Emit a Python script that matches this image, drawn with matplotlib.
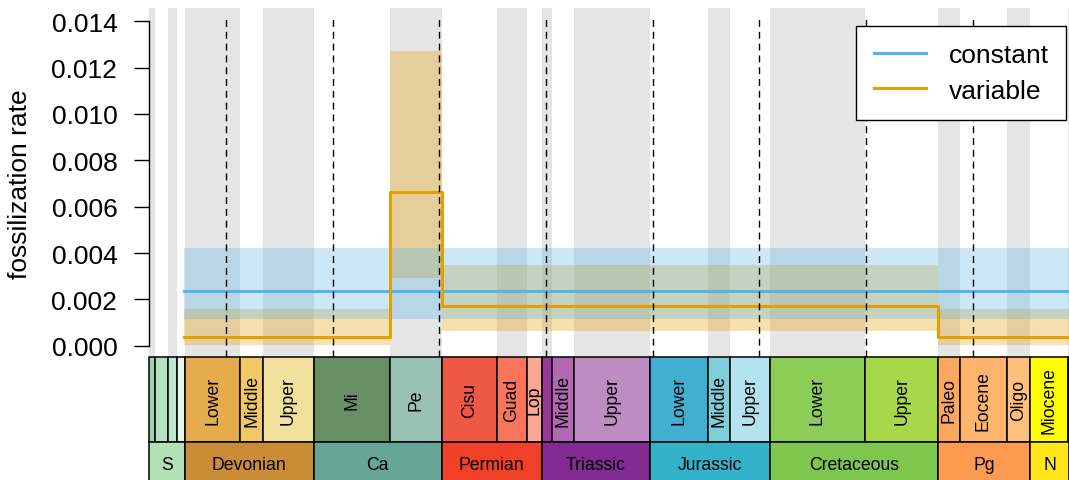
import matplotlib.pyplot as plt
from matplotlib.patches import Rectangle

plt.rcParams['font.family'] = ['Liberation Sans', 'DejaVu Sans']

# geological epochs (Ma)
epoch_start = [443.8, 433.4, 427.4, 423.0, 419.2, 393.3, 382.7, 358.9, 323.2,
               298.9, 272.95, 259.1, 251.9, 247.2, 237.0, 201.3, 174.1, 163.5,
               145.0, 100.5, 66.0, 56.0, 33.9, 23.03, 5.333]
epoch_end = epoch_start[1:] + [2.58]
epoch_labels = ['', '', '', '', 'Lower', 'Middle', 'Upper', 'Mi', 'Pe',
                'Cisu', 'Guad', 'Lop', '', 'Middle', 'Upper', 'Lower', 'Middle',
                'Upper', 'Lower', 'Upper', 'Paleo', 'Eocene', 'Oligo', 'Miocene', '']
epoch_colors = ['#99D7B3', '#B3E1C2', '#BFE6CF', '#E6F5E1', '#E5AC4D', '#F1C868',
                '#F1E19D', '#678F66', '#99C2B5', '#EF5845', '#FB745C', '#FBA794',
                '#983999', '#B168B1', '#BD8CC3', '#42AED0', '#80CFD8', '#B3E3EE',
                '#8CCD57', '#A6D84A', '#FDA75F', '#FDB46C', '#FEC07A', '#FFFF00',
                '#FFFF99']

# geological periods (Ma)
period_start = [443.8, 419.2, 358.9, 298.9, 251.9, 201.3, 145.0, 66.0, 23.03]
period_end = period_start[1:] + [2.58]
period_labels = ['S', 'Devonian', 'Ca', 'Permian', 'Triassic', 'Jurassic',
                 'Cretaceous', 'Pg', 'N']
period_colors = ['#B3E1B6', '#CB8C37', '#67A599', '#F04028', '#812B92',
                 '#34B2C9', '#7FC64E', '#FD9A52', '#FFE619']

# fossilization rate estimates
t_origin = 419.7
const_rate = 0.00236
const_lo = 0.00115
const_hi = 0.0042

var_breaks = [419.7, 323.2, 298.9, 66.0, 0.0]
var_rate = [0.000375, 0.00662, 0.00173, 0.000375]
var_lo = [0.00003, 0.00291, 0.00065, 0.00003]
var_hi = [0.00158, 0.01273, 0.0035, 0.00158]

grid_ages = [400, 350, 300, 250, 200, 150, 100, 50]
y_ticks = [0.0, 0.002, 0.004, 0.006, 0.008, 0.010, 0.012, 0.014]

x_old, x_young = 436.1, 4.8
col_const = '#56B4E9'
col_var = '#E69F00'

fig = plt.figure(figsize=(10.69, 4.81), dpi=100)
ax = fig.add_axes([149/1069, 123/481, 920/1069, 349/481])

# alternating grey shading for epochs
for i in range(0, len(epoch_start), 2):
    ax.axvspan(epoch_start[i], epoch_end[i], color='#E5E5E5', lw=0, zorder=0)

ax.fill_between(var_breaks, var_lo + var_lo[-1:], var_hi + var_hi[-1:], step='post',
                color=col_var, alpha=0.32, lw=0, zorder=1)
ax.fill_between([t_origin, 0], const_lo, const_hi, color=col_const, alpha=0.3,
                lw=0, zorder=1)
ax.plot([t_origin, 0], [const_rate, const_rate], color=col_const, lw=2.2,
        label='constant', zorder=2)
ax.step(var_breaks, var_rate + var_rate[-1:], where='post', color=col_var, lw=2.2,
        label='variable', zorder=3)

for a in grid_ages:
    ax.axvline(a, ymin=0, ymax=0.981, color='black', lw=1.0,
               linestyle=(0, (5, 3.5)), zorder=4)

ax.set_xlim(x_old, x_young)
ax.set_ylim(-0.000488, 0.014574)
ax.set_xticks([])
ax.set_yticks(y_ticks)
ax.set_yticklabels(['%.3f' % v for v in y_ticks])
ax.tick_params(axis='y', length=10.8, width=1.0, pad=12, labelsize=19)
for s in ['top', 'right', 'bottom']:
    ax.spines[s].set_visible(False)
ax.spines['left'].set_bounds(0, 0.014)
ax.spines['left'].set_linewidth(1.0)
ax.patch.set_visible(False)

fig.text(20/1069, 297/481, 'fossilization rate', rotation=90, ha='center',
         va='center', fontsize=19)

leg = ax.legend(loc='upper right', bbox_to_anchor=(1066/1069, 1 - 26.7/481),
                bbox_transform=fig.transFigure, borderaxespad=0, fontsize=19,
                fancybox=False, edgecolor='black', framealpha=1,
                handlelength=2.0, handletextpad=0.85, borderpad=0.65,
                labelspacing=0.45)
leg.get_frame().set_linewidth(1.0)
leg.set_zorder(10)

# timescale bar below the plot
ts = fig.add_axes([149/1069, -6/481, 920/1069, 129/481])
ts.set_xlim(x_old, x_young)
ts.set_ylim(129, 0)
ts.axis('off')


def draw_row(starts, ends, labels, colors, y0, y1, rot):
    for s, e, lab, c in zip(starts, ends, labels, colors):
        a0 = min(s, x_old)
        a1 = max(e, x_young)
        if a0 <= a1:
            continue
        ts.add_patch(Rectangle((a1, y0), a0 - a1, y1 - y0, facecolor=c,
                               edgecolor='black', lw=1.1, clip_on=False))
        if lab:
            ts.text((a0 + a1) / 2, (y0 + y1) / 2, lab, rotation=rot,
                    ha='center', va='center', fontsize=12.7)


draw_row(epoch_start, epoch_end, epoch_labels, epoch_colors, 0, 85.3, 90)
draw_row(period_start, period_end, period_labels, period_colors, 85.3, 129, 0)

fig.savefig('out.png', dpi=100)
